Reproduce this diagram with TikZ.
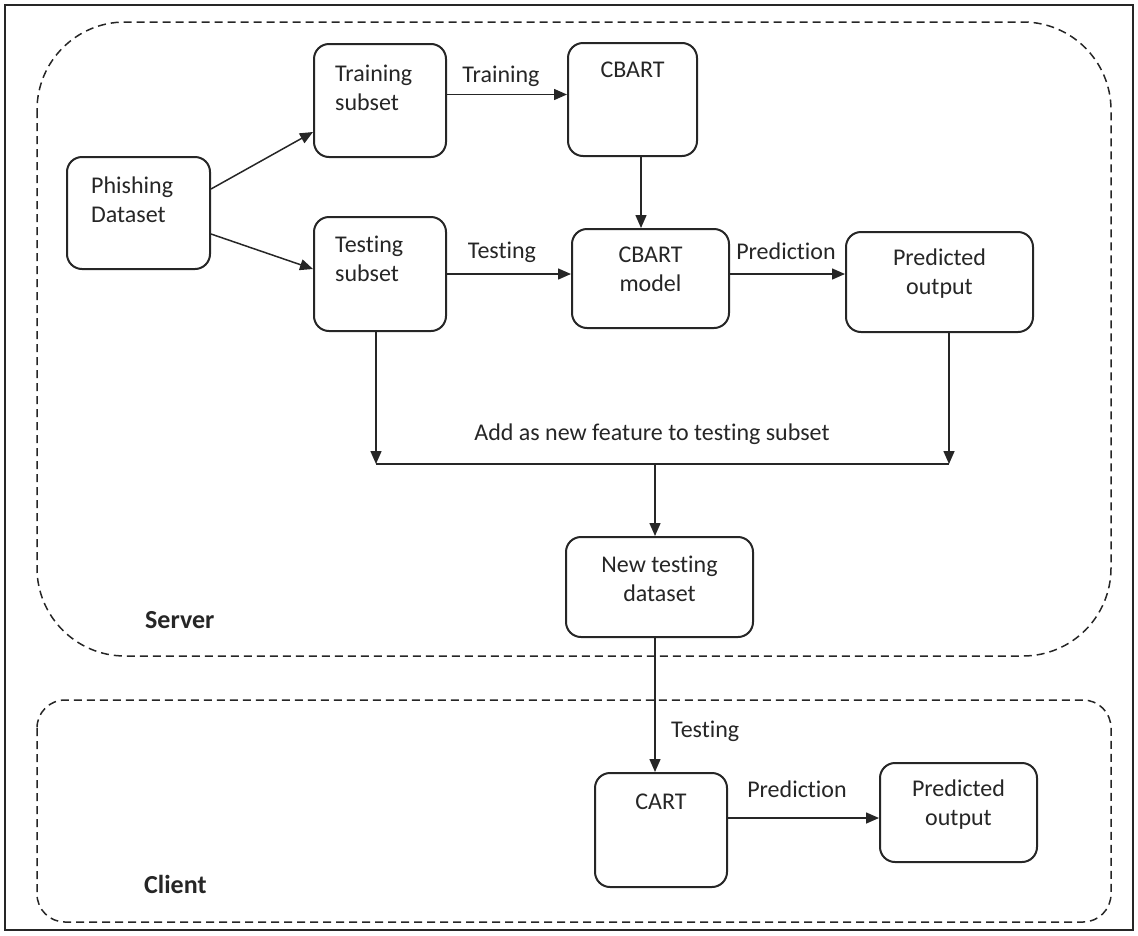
\documentclass[tikz,border=0pt]{standalone}
\usepackage{fontspec}
\setmainfont[Ligatures=NoCommon]{Carlito}
\usepackage{tikz}
\usetikzlibrary{arrows.meta,positioning,calc}
\definecolor{ink}{HTML}{262626}
\tikzset{thick/.style={line width=1.5pt},
  very thick/.style={line width=2pt}}

\begin{document}
\begin{tikzpicture}[x=1pt, y=-1pt,
  box/.style={draw=ink, very thick, rectangle, rounded corners=15pt,
    fill=white, inner sep=0pt},
  txt/.style={font=\fontsize{24}{29}\selectfont, text=ink, inner sep=0pt},
  lbl/.style={txt, anchor=base},
  lnk/.style={-{Triangle[length=13pt,width=11pt]}, thick, draw=ink},
  zone/.style={draw=ink, thick, dash pattern=on 8pt off 5pt},
]
\useasboundingbox (0,0) rectangle (1138,935);
\draw[ink, very thick] (5,5) rectangle (1133,930);
% server and client areas
\draw[zone, rounded corners=88pt] (37,22) rectangle (1111,656);
\draw[zone, rounded corners=28pt] (37,700) rectangle (1111,922);
\node[txt, font=\bfseries\fontsize{26}{30}\selectfont, anchor=base west] (srv) at (145,628) {Server};
\node[txt, font=\bfseries\fontsize{26}{30}\selectfont, anchor=base west] (cli) at (144,893) {Client};

\node[box, minimum width=143pt, minimum height=112pt] (data) at (138.5,213) {};
\node[box, minimum width=132pt, minimum height=113pt] (train) at (380,100.5) {};
\node[box, minimum width=129pt, minimum height=113pt] (cbart) at (632.5,99.5) {};
\node[box, minimum width=132pt, minimum height=114pt] (test) at (380,274) {};
\node[box, minimum width=157pt, minimum height=99pt] (model) at (650.5,278.5) {};
\node[box, minimum width=187pt, minimum height=100pt] (pred) at (939.5,282) {};
\node[box, minimum width=187pt, minimum height=100pt] (newds) at (659.5,587) {};
\node[box, minimum width=132pt, minimum height=114pt] (cart) at (661,830) {};
\node[box, minimum width=157pt, minimum height=99pt] (predc) at (958.5,812.5) {};

% box texts (base = last line)
\node[txt, anchor=base west, align=left] (data-t) at ([shift={(25,66)}]data.north west) {Phishing\\Dataset};
\node[txt, anchor=base west, align=left] (train-t) at ([shift={(22,67)}]train.north west) {Training\\subset};
\node[txt, anchor=base west, align=left] (test-t) at ([shift={(22,65)}]test.north west) {Testing\\subset};
\node[txt, anchor=base] (cbart-t) at ([shift={(0,35)}]cbart.north) {CBART};
\node[txt, anchor=base, align=center] (model-t) at ([shift={(0,63)}]model.north) {CBART\\model};
\node[txt, anchor=base, align=center] (pred-t) at ([shift={(0,63)}]pred.north) {Predicted\\output};
\node[txt, anchor=base, align=center] (newds-t) at ([shift={(0,65)}]newds.north) {New testing\\dataset};
\node[txt, anchor=base] (cart-t) at ([shift={(0,37)}]cart.north) {CART};
\node[txt, anchor=base, align=center] (predc-t) at ([shift={(0,63)}]predc.north) {Predicted\\output};

\coordinate (jl) at (376,464);
\coordinate (jr) at (949,464);
\coordinate (jm) at (655,464);

\draw[lnk] ([yshift=24]data.east) -- ([yshift=-31.5]train.west);
\draw[lnk] ([yshift=-21]data.east) -- ([yshift=5]test.west);
\draw[lnk] ([yshift=6]train.east) -- ([yshift=6]train.east -| cbart.west);
\draw[lnk] ([xshift=8.5]cbart.south) -- ([xshift=8.5]cbart.south |- model.north);
\draw[lnk] (test.east) -- (test.east -| model.west);
\draw[lnk] (model.east |- test.east) -- (test.east -| pred.west);
\draw[lnk] (test.south -| jl) -- (jl);
\draw[lnk] (pred.south -| jr) -- (jr);
\draw[thick, ink] (jl) -- (jr);
\draw[lnk] (jm) -- (jm |- newds.north);
\draw[lnk] (jm |- newds.south) -- (jm |- cart.north);
\draw[lnk] ([yshift=12]cart.east) -- ([yshift=12]cart.east -| predc.west);

\node[lbl] (l-train) at (501,82) {Training};
\node[lbl] (l-test) at (502,258) {Testing};
\node[lbl] (l-pred) at (786,259) {Prediction};
\node[lbl] (l-add) at (652,440) {Add as new feature to testing subset};
\node[lbl, anchor=base west] (l-test2) at (671,737) {Testing};
\node[lbl] (l-pred2) at (797,797) {Prediction};
\end{tikzpicture}
\end{document}
